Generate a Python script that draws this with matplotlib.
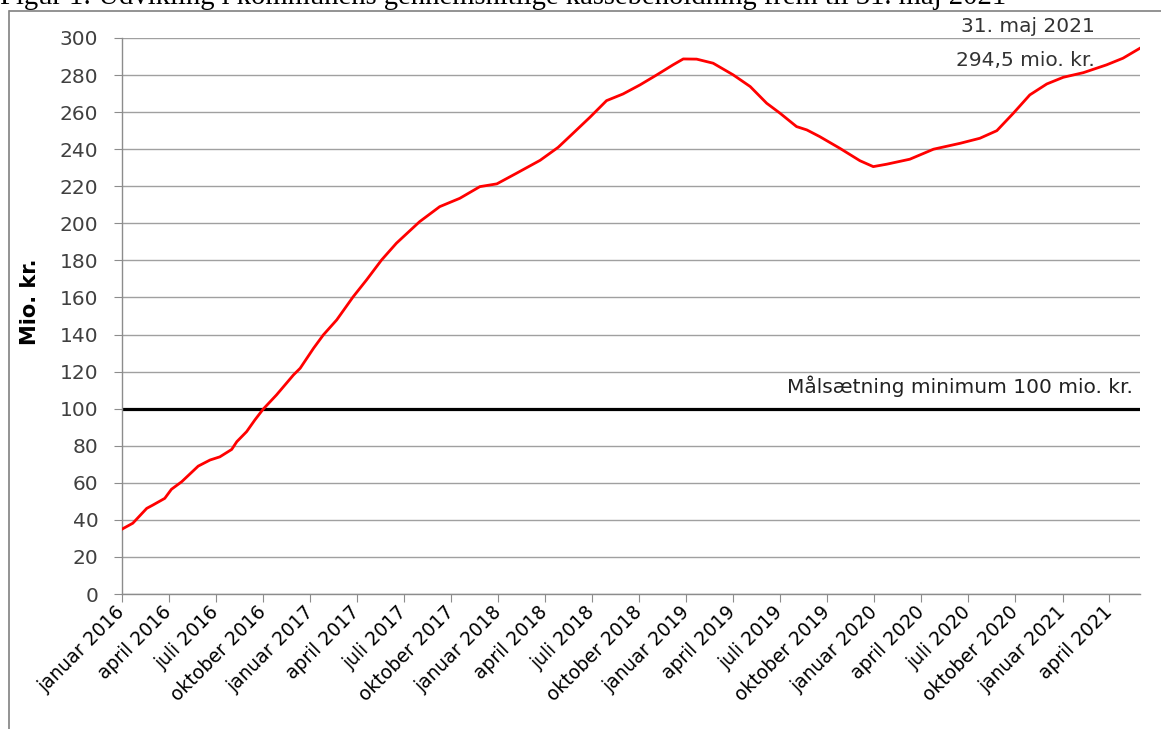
import matplotlib
matplotlib.use("Agg")
import matplotlib.pyplot as plt
from matplotlib.lines import Line2D
import pandas as pd

# kassebeholdning (mio. kr.)
dates = ["2016-01-01", "2016-01-22", "2016-02-18", "2016-03-01", "2016-03-24", "2016-04-06",
         "2016-04-26", "2016-05-28", "2016-06-20", "2016-07-09", "2016-08-01", "2016-08-11",
         "2016-08-30", "2016-09-15", "2016-10-01", "2016-10-27", "2016-11-29", "2016-12-12",
         "2017-01-07", "2017-01-26", "2017-02-21", "2017-03-25", "2017-04-20", "2017-05-19",
         "2017-06-17", "2017-08-01", "2017-09-09", "2017-10-18", "2017-11-26", "2017-12-29",
         "2018-02-05", "2018-03-23", "2018-04-27", "2018-05-26", "2018-06-28", "2018-07-30",
         "2018-08-31", "2018-10-03", "2018-11-04", "2018-12-06", "2018-12-26", "2019-01-21",
         "2019-02-22", "2019-04-02", "2019-05-05", "2019-06-06", "2019-07-02", "2019-08-03",
         "2019-08-23", "2019-09-17", "2019-10-26", "2019-12-04", "2019-12-30", "2020-01-25",
         "2020-03-10", "2020-04-25", "2020-06-16", "2020-07-24", "2020-08-26", "2020-09-27",
         "2020-10-29", "2020-12-01", "2021-01-02", "2021-02-10", "2021-03-27", "2021-04-28",
         "2021-05-31"]
values = [35.0, 38.2, 46.2, 48.0, 51.6, 56.5,
          60.6, 69.0, 72.3, 74.0, 78.0, 82.2,
          87.6, 93.9, 99.7, 107.4, 118.2, 121.8,
          132.6, 139.8, 147.9, 160.4, 169.5, 180.2,
          189.3, 200.9, 209.0, 213.5, 219.8, 221.3,
          227.0, 234.0, 241.0, 248.6, 257.3, 266.2,
          269.8, 274.7, 280.0, 285.5, 288.7, 288.6,
          286.4, 280.1, 273.8, 264.8, 259.4, 252.2,
          250.4, 246.8, 240.5, 233.8, 230.6, 231.9,
          234.6, 240.0, 243.2, 245.9, 250.0, 259.4,
          269.3, 275.2, 278.8, 281.3, 285.5, 289.1,
          294.5]
target = 100
month_names = {1: "januar", 4: "april", 7: "juli", 10: "oktober"}
tick_dates = pd.date_range("2016-01-01", "2021-04-01", freq="QS")
tick_labels = [f"{month_names[d.month]} {d.year}" for d in tick_dates]

x = pd.to_datetime(dates)

fig = plt.figure(figsize=(11.61, 7.29), dpi=100)
ax = fig.add_axes([122 / 1161, 1 - 594 / 729, 1018 / 1161, 556 / 729])

grid_col = "#a0a0a0"
ax.set_ylim(0, 300)
ax.set_yticks(range(0, 301, 20))
ax.yaxis.grid(True, color=grid_col, linewidth=1.0)
ax.set_axisbelow(True)

ax.axhline(target, color="black", linewidth=2.3, zorder=2)
ax.plot(x, values, color="red", linewidth=2.0, zorder=3)

ax.set_xlim(pd.Timestamp("2016-01-01"), pd.Timestamp("2021-05-31"))
ax.set_xticks(tick_dates)
ax.set_xticklabels(tick_labels, rotation=45, ha="right", va="center",
                   rotation_mode="anchor", fontsize=13.5, color="black")

for s in ["top", "right"]:
    ax.spines[s].set_visible(False)
for s in ["left", "bottom"]:
    ax.spines[s].set_color("#8c8c8c")
    ax.spines[s].set_linewidth(1.0)
ax.tick_params(axis="y", length=6, color="#8c8c8c", labelsize=14.5, labelcolor="#404040", pad=11)
ax.tick_params(axis="x", length=6, color="#8c8c8c", pad=5)

ax.set_ylabel("Mio. kr.", fontsize=15, fontweight="bold")
ax.yaxis.set_label_coords(-0.0806, 0.525)

ax.text(0.956, 1.020, "31. maj 2021", transform=ax.transAxes, ha="right", va="center",
        fontsize=14.5, color="#333333")
ax.text(0.956, 0.960, "294,5 mio. kr.", transform=ax.transAxes, ha="right", va="center",
        fontsize=14.5, color="#333333")
ax.text(0.993, 0.373, "Målsætning minimum 100 mio. kr.", transform=ax.transAxes,
        ha="right", va="center", fontsize=14.5, color="#222222")

# ramme om figuren og den afskårne overskrift (som i originalen)
fig.add_artist(Line2D([10 / 1161, 1], [1 - 11 / 729, 1 - 11 / 729], color="#808080", linewidth=1.2))
fig.add_artist(Line2D([9 / 1161, 9 / 1161], [0, 1 - 11 / 729], color="#808080", linewidth=1.2))
fig.text(0.0, 1 - 4 / 729, "Figur 1: Udvikling i kommunens gennemsnitlige kassebeholdning frem til 31. maj 2021",
         fontsize=20.6, family="Liberation Serif", va="baseline", ha="left")

fig.savefig("out.png", dpi=100)
